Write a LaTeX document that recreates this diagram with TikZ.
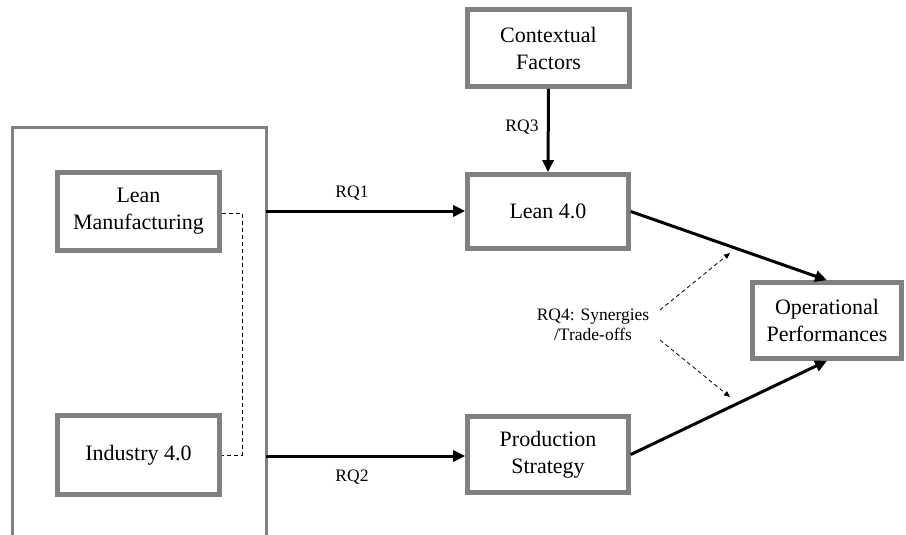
\documentclass[tikz,border=0pt]{standalone}
\usepackage{fontspec}
\setmainfont{Liberation Serif}
\usetikzlibrary{arrows.meta}
\definecolor{boxgray}{RGB}{128,128,128}
\begin{document}
\begin{tikzpicture}[x=1pt,y=-1pt,
  block/.style={draw=boxgray, line width=4.6pt, fill=white, rectangle, align=center,
    inner sep=0pt, font=\fontsize{22}{27}\selectfont},
  lbl/.style={font=\fontsize{17.5}{20}\selectfont, inner sep=0pt},
  flow/.style={line width=3pt, -{Triangle[length=12pt,width=11pt]}},
  link/.style={line width=0.8pt, dash pattern=on 4pt off 3pt, -{Triangle[length=6pt,width=5pt]}}]
\useasboundingbox (0,0) rectangle (906,535);

% enclosing frame, open at the bottom
\draw[boxgray, line width=3pt] (12,540) -- (12,128) -- (266,128) -- (266,540);

\node[block, minimum width=162pt, minimum height=78pt] (lm) at (138.5,211.5) {Lean\\Manufacturing};
\node[block, minimum width=162pt, minimum height=79pt] (i40) at (138.5,455) {Industry 4.0};
\node[block, minimum width=162pt, minimum height=77pt] (cf) at (548.5,48) {Contextual\\Factors};
\node[block, minimum width=161pt, minimum height=74pt] (l40) at (548,211.5) {Lean 4.0};
\node[block, minimum width=161pt, minimum height=76pt] (ps) at (548,454.5) {Production\\Strategy};
\node[block, minimum width=149pt, minimum height=76pt] (op) at (827,320.5) {Operational\\Performances};

% dashed link between the two inner boxes
\coordinate (lmr) at (242,213);
\coordinate (i4r) at (242,455);
\draw[line width=0.8pt, dash pattern=on 4pt off 3pt] (lm.east |- lmr) -- (lmr) -- (i4r) -- (i40.east |- i4r);

% frame outputs
\coordinate (f1) at (266,211);
\coordinate (f2) at (266,456);
\draw[flow] (f1) -- (l40.west |- f1);
\draw[flow] (f2) -- (ps.west |- f2);
\node[lbl] (rq1) at (352,193) {RQ1};
\node[lbl] (rq2) at (352,477) {RQ2};

\draw[flow] (cf.south) -- (l40.north);
\node[lbl] (rq3) at (522,127) {RQ3};

\draw[flow] (l40.east) -- (op.north);
\draw[flow] (ps.east) -- (op.south);

% moderating effects
\node[lbl, align=center] (rq4) at (593,325) {RQ4: Synergies\\/Trade-offs};
\coordinate (d1s) at (660,310);
\coordinate (d1e) at (730,253);
\coordinate (d2s) at (660,340);
\coordinate (d2e) at (730,397);
\draw[link] (d1s) -- (d1e);
\draw[link] (d2s) -- (d2e);
\end{tikzpicture}
\end{document}
